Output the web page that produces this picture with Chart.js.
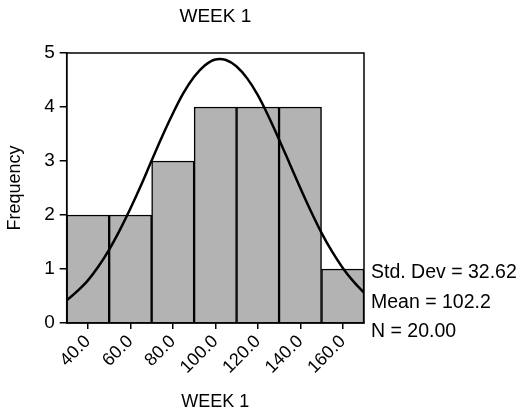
<!DOCTYPE html>
<html><head><meta charset="utf-8">
<script src="https://cdn.jsdelivr.net/npm/chart.js@4/dist/chart.umd.min.js"></script>
<style>html,body{margin:0;padding:0;background:#fff}#wrap{width:528px;height:417px}</style>
</head><body><div id="wrap"><canvas id="c" width="528" height="417"></canvas></div>
<script>
const binCenters = [40, 60, 80, 100, 120, 140, 160];
const frequencies = [2, 2, 3, 4, 4, 4, 1];
const curveX = [30, 35, 40, 45, 50, 55, 60, 65, 70, 75, 80, 85, 90, 95, 100, 105, 110, 115, 120, 125, 130, 135, 140, 145, 150, 155, 160, 165, 170];
const curveY = [0.42, 0.59, 0.79, 1.05, 1.36, 1.72, 2.12, 2.55, 3.01, 3.46, 3.88, 4.26, 4.56, 4.77, 4.88, 4.87, 4.75, 4.53, 4.22, 3.83, 3.40, 2.95, 2.50, 2.07, 1.67, 1.32, 1.02, 0.77, 0.56];
const xTickValues = [40, 60, 80, 100, 120, 140, 160];
const statLines = ['Std. Dev = 32.62', 'Mean = 102.2', 'N = 20.00'];
const chartTitle = 'WEEK 1';
const xAxisTitle = 'WEEK 1';
const yAxisTitle = 'Frequency';

const FONT = 'Liberation Sans, Arial, sans-serif';

const framePlugin = {
  id: 'frame',
  afterDraw(chart) {
    const {ctx, chartArea: a} = chart;
    ctx.save();
    ctx.strokeStyle = '#000';
    ctx.lineWidth = 1.5;
    ctx.strokeRect(a.left, a.top, a.right - a.left, a.bottom - a.top);
    ctx.fillStyle = '#000';
    ctx.font = '19px ' + FONT;
    ctx.textAlign = 'center';
    ctx.textBaseline = 'middle';
    ctx.fillText(chartTitle, (a.left + a.right) / 2, 17);
    ctx.textAlign = 'left';
    ctx.font = '19.5px ' + FONT;
    const offs = [-50, -20, 9];
    statLines.forEach((s, i) => ctx.fillText(s, a.right + 7, a.bottom + offs[i]));
    ctx.restore();
  }
};

new Chart(document.getElementById('c'), {
  data: {
    datasets: [
      {
        type: 'line',
        data: curveX.map((x, i) => ({x, y: curveY[i]})),
        borderColor: '#000',
        borderWidth: 2.5,
        pointRadius: 0,
        tension: 0.35,
        fill: false,
        order: 0
      },
      {
        type: 'bar',
        data: binCenters.map((x, i) => ({x, y: frequencies[i]})),
        backgroundColor: '#b3b3b3',
        borderColor: '#000',
        borderWidth: 1.5,
        barPercentage: 1,
        categoryPercentage: 1,
        order: 1
      }
    ]
  },
  options: {
    responsive: false,
    devicePixelRatio: 1,
    animation: false,
    layout: {padding: {left: 0, right: 164, top: 53, bottom: 0}},
    plugins: {legend: {display: false}, tooltip: {enabled: false}, title: {display: false}},
    scales: {
      x: {
        type: 'linear',
        offset: false,
        min: 30, max: 170,
        afterBuildTicks(scale) { scale.ticks = xTickValues.map(v => ({value: v})); },
        afterFit(scale) { scale.height = 94; },
        ticks: {
          color: '#000', font: {family: FONT, size: 18},
          minRotation: 45, maxRotation: 45, padding: 2,
          callback: v => Number(v).toFixed(1)
        },
        grid: {offset: false, drawOnChartArea: false, drawTicks: true, tickLength: 6, color: '#000', lineWidth: 1.5},
        border: {display: true, color: '#000', width: 1.5},
        title: {display: true, text: xAxisTitle, color: '#000', font: {family: FONT, size: 18}, padding: {top: 0, bottom: 4}}
      },
      y: {
        min: 0, max: 5,
        afterFit(scale) { scale.width = 66.7; },
        ticks: {stepSize: 1, color: '#000', font: {family: FONT, size: 19}, padding: 5},
        grid: {drawOnChartArea: false, drawTicks: true, tickLength: 7, color: '#000', lineWidth: 1.5},
        border: {display: true, color: '#000', width: 1.5},
        title: {display: true, text: yAxisTitle, color: '#000', font: {family: FONT, size: 18}, padding: {top: 4, bottom: 0}}
      }
    }
  },
  plugins: [framePlugin]
});
</script></body></html>
